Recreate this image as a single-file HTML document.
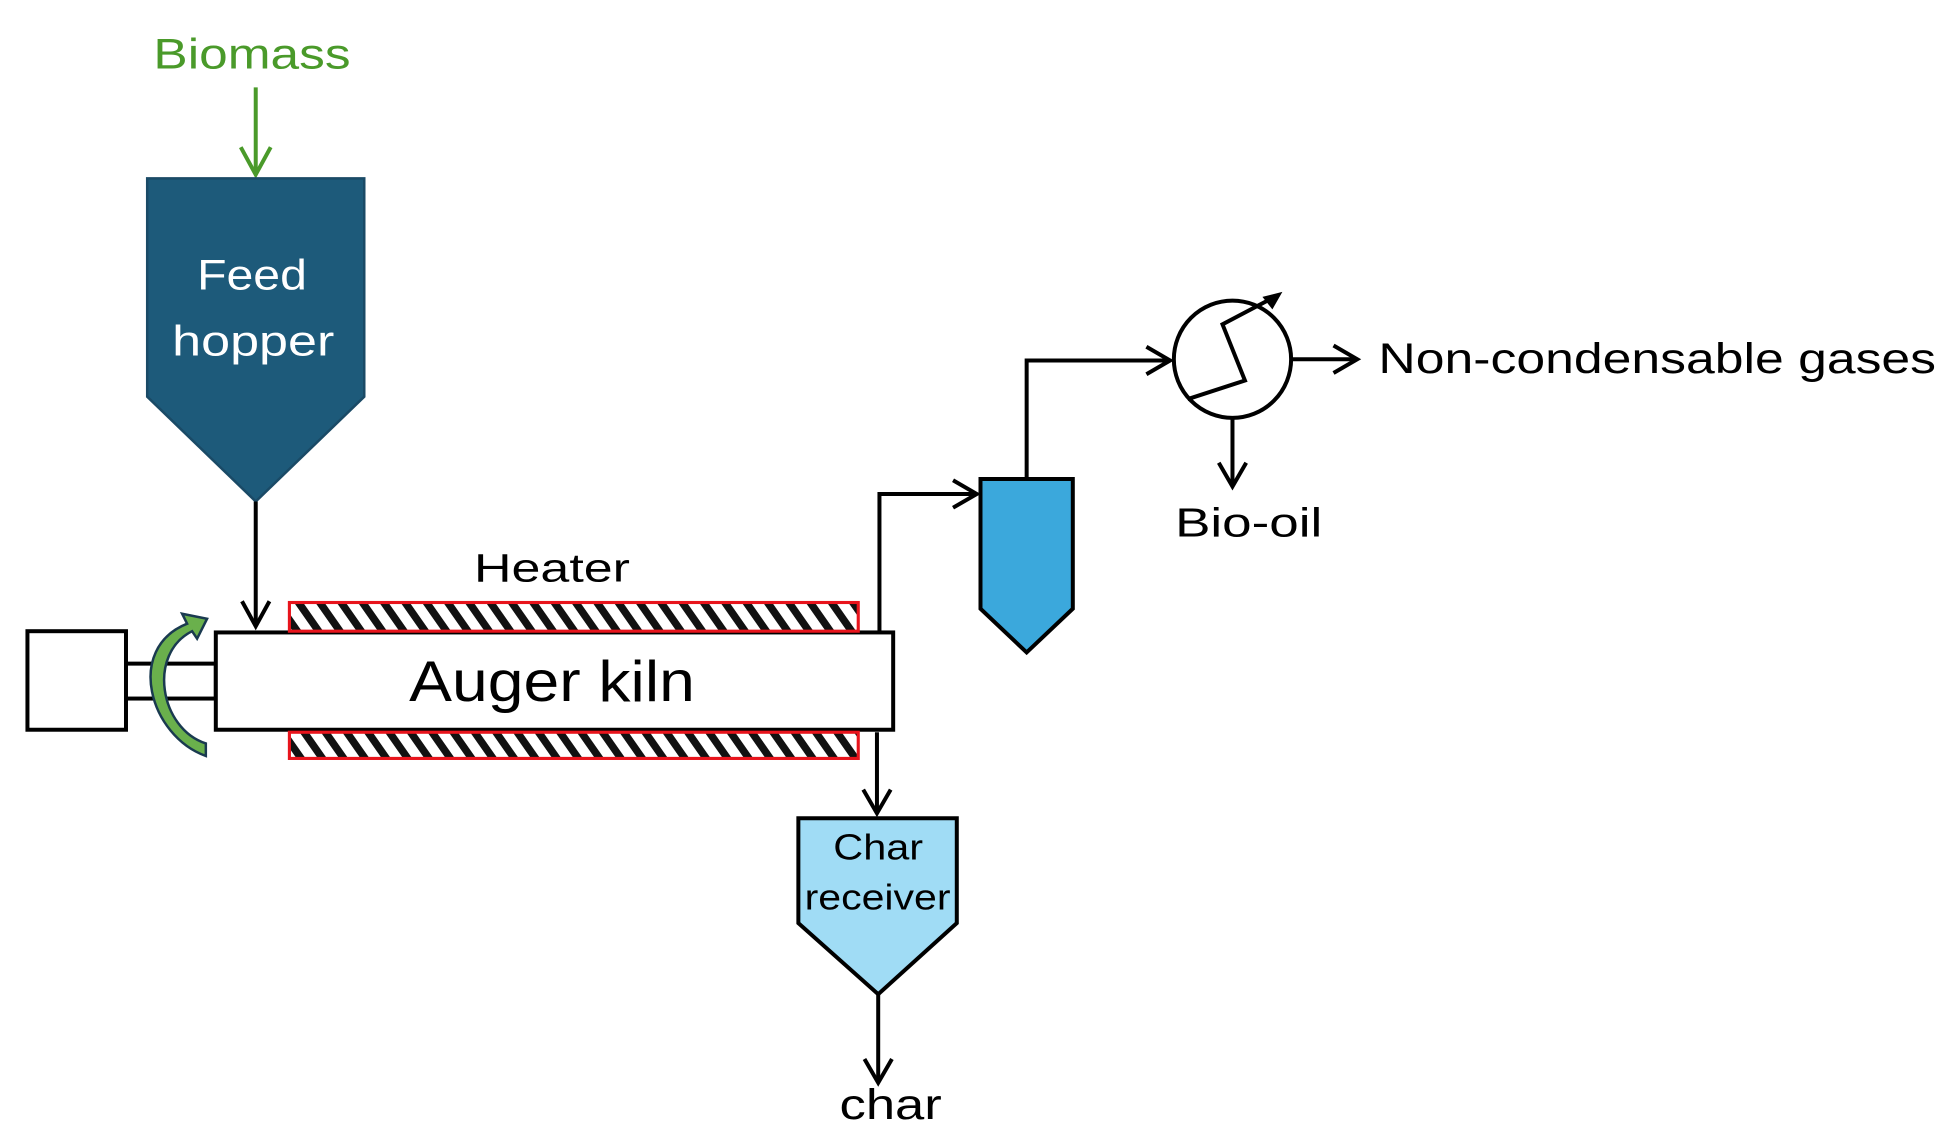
<!DOCTYPE html>
<html><head><meta charset="utf-8"><style>
html,body{margin:0;padding:0;background:#fff;}
svg{display:block}
text{font-family:"Liberation Sans",sans-serif;}
</style></head><body>
<svg width="1956" height="1148" viewBox="0 0 1568 920.3" preserveAspectRatio="none" xmlns="http://www.w3.org/2000/svg">
<defs>
<pattern id="h" width="14" height="14" patternUnits="userSpaceOnUse" patternTransform="rotate(-35)">
<rect width="14" height="14" fill="#fff"/><rect width="6" height="14" fill="#111"/>
</pattern>
</defs>
<g fill="none" stroke="#000" stroke-width="3.2">
<line x1="205" y1="70" x2="205" y2="140" stroke="#4a9a2a"/>
<polyline points="193,118 205,140 217,118" stroke="#4a9a2a"/>
<polygon points="118,143 292,143 292,318 205,402 118,318" fill="#1d5a7a" stroke="#1a4a66" stroke-width="2"/>
<line x1="205" y1="402" x2="205" y2="502"/>
<polyline points="194,482 205,502 216,482"/>
<rect x="22" y="506" width="79" height="79" fill="#fff"/>
<rect x="101" y="532" width="72" height="28" fill="#fff"/>
<rect x="173" y="507" width="543" height="78" fill="#fff"/>
<rect x="232" y="483" width="456" height="23" fill="url(#h)" stroke="#e8141c" stroke-width="2.5"/>
<rect x="232" y="587" width="456" height="21" fill="url(#h)" stroke="#e8141c" stroke-width="2.5"/>
<polyline points="705,507 705,396 783,396"/>
<polyline points="764,385 783,396 764,407"/>
<polygon points="786,384 860,384 860,488 823,523 786,488" fill="#3ba8dc"/>
<polyline points="823,384 823,289 938,289"/>
<polyline points="919,278 938,289 919,300"/>
<circle cx="988" cy="288" r="47" fill="#fff"/>
<polyline points="952,320 998,305 980,260 1018,240"/>
<polyline points="1035,288 1088,288"/>
<polyline points="1069,277 1088,288 1069,299"/>
<polyline points="988,335 988,390"/>
<polyline points="977,371 988,390 999,371"/>
<polyline points="703,587 703,652"/>
<polyline points="692,633 703,652 714,633"/>
<polygon points="640,656 767,656 767,740 704,797 640,740" fill="#a0dcf5"/>
<polyline points="704,797 704,868"/>
<polyline points="693,849 704,868 715,849"/>
</g>
<polygon points="1012,238 1028,234 1020,248" fill="#000"/>
<path d="M165,606 C120,590 100,520 150,500 L146,492 L166,496 L158,512 L154,506 C118,524 128,584 165,596 Z" fill="#6ab04c" stroke="#1a3a50" stroke-width="2"/>
<text x="123" y="55" font-size="34" fill="#4a9a2a" textLength="158" lengthAdjust="spacingAndGlyphs">Biomass</text>
<text x="158" y="232" font-size="34" fill="#fff" textLength="88" lengthAdjust="spacingAndGlyphs">Feed</text>
<text x="138" y="285" font-size="34" fill="#fff" textLength="130" lengthAdjust="spacingAndGlyphs">hopper</text>
<text x="380" y="466" font-size="32" textLength="125" lengthAdjust="spacingAndGlyphs">Heater</text>
<text x="328" y="562" font-size="46" textLength="229" lengthAdjust="spacingAndGlyphs">Auger kiln</text>
<text x="1105" y="299" font-size="34" textLength="447" lengthAdjust="spacingAndGlyphs">Non-condensable gases</text>
<text x="942" y="430" font-size="33" textLength="118" lengthAdjust="spacingAndGlyphs">Bio-oil</text>
<text x="668" y="689" font-size="29" textLength="72" lengthAdjust="spacingAndGlyphs">Char</text>
<text x="645" y="729" font-size="29" textLength="117" lengthAdjust="spacingAndGlyphs">receiver</text>
<text x="673" y="897" font-size="34" textLength="82" lengthAdjust="spacingAndGlyphs">char</text>
</svg>
</body></html>
